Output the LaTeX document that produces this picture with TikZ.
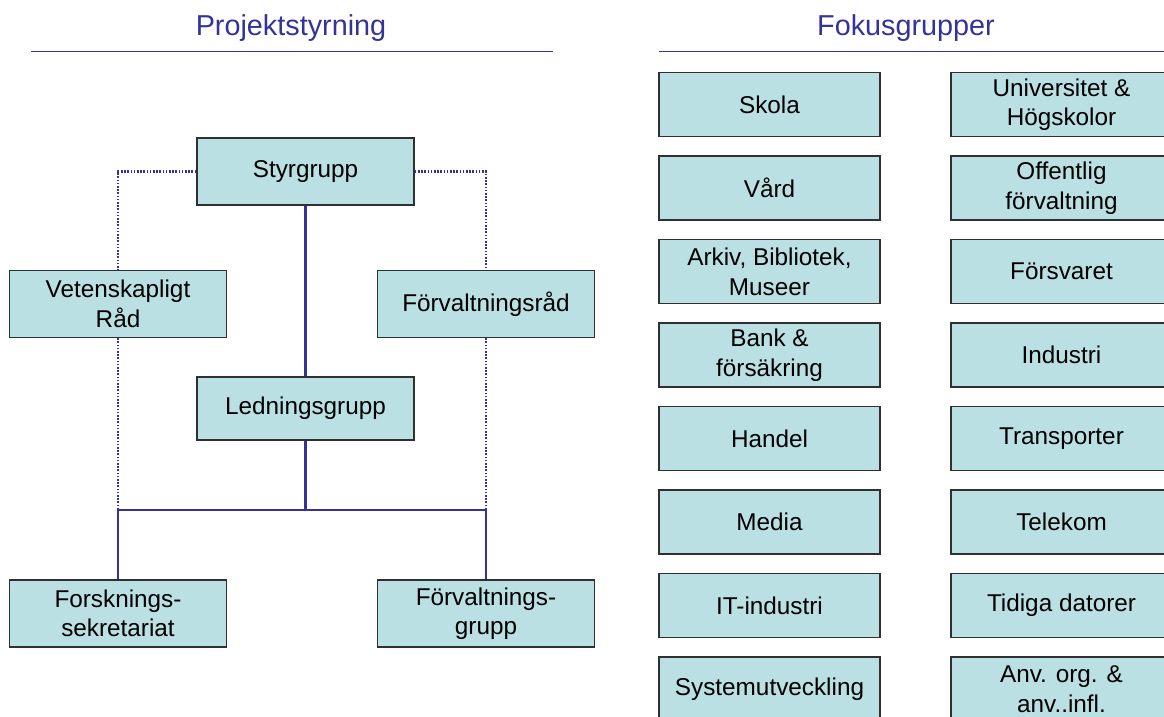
\documentclass[tikz,border=0pt]{standalone}
\usepackage{fontspec}
\setmainfont{Liberation Sans}
\definecolor{boxfill}{HTML}{BBE0E3}
\definecolor{linkblue}{HTML}{333399}
\definecolor{boxline}{HTML}{303030}
\tikzset{
  orgbox/.style={draw=boxline, line width=1.5pt, fill=boxfill, inner sep=0pt,
    minimum width=217pt, minimum height=67pt, align=center,
    font=\fontsize{24.3}{29.5}\selectfont},
  focbox/.style={draw=boxline, line width=1.5pt, fill=boxfill, inner sep=0pt,
    minimum width=221pt, minimum height=64pt, align=center,
    font=\fontsize{24.3}{29.5}\selectfont},
  solidlink/.style={draw=linkblue, line width=2.8pt},
  dotlink/.style={draw=linkblue, line width=2.4pt, dash pattern=on 1.6pt off 1.6pt},
  titletext/.style={text=linkblue, font=\fontsize{28.8}{32}\selectfont, inner sep=0pt},
  titlerule/.style={draw=linkblue, line width=1.6pt}
}
\begin{document}
\begin{tikzpicture}[x=1pt,y=-1pt]
\useasboundingbox (0,0) rectangle (1164,717);
\clip (0,0) rectangle (1164,717);
% titles
\node[titletext] (t1) at (291,28) {Projektstyrning};
\node[titletext] (t2) at (906,28) {Fokusgrupper};
\coordinate (r1a) at (31,51.5);
\coordinate (r1b) at (553,51.5);
\coordinate (r2a) at (659,51.5);
\coordinate (r2b) at (1164,51.5);
\draw[titlerule] (r1a) -- (r1b);
\draw[titlerule] (r2a) -- (r2b);
% project organisation
\coordinate (busM) at (305.5,510);
\node[orgbox] (sty) at (305.5,171.5) {Styrgrupp};
\node[orgbox] (vet) at (118,304) {Vetenskapligt\\Råd};
\node[orgbox] (frad) at (486,304) {Förvaltningsråd};
\node[orgbox, minimum height=63pt] (led) at (305.5,408.5) {Ledningsgrupp};
\node[orgbox] (fos) at (118,613.5) {Forsknings-\\sekretariat};
\node[orgbox] (fgr) at (486,613.5) {Förvaltnings-\\grupp};
\draw[dotlink] (sty.west) -| (vet.north);
\draw[dotlink] (sty.east) -| (frad.north);
\draw[dotlink] (vet.south) -- (vet.south |- busM);
\draw[dotlink] (frad.south) -- (frad.south |- busM);
\draw[solidlink] (sty.south) -- (led.north);
\draw[solidlink] (led.south) -- (busM);
\draw[solidlink] (fos.north) |- (busM) -| (fgr.north);
% focus groups
\node[focbox] (f1) at (769.5,104.7) {Skola};
\node[focbox] (f2) at (769.5,188.2) {Vård};
\node[focbox] (f3) at (769.5,271.7) {Arkiv, Bibliotek,\\Museer};
\node[focbox] (f4) at (769.5,355.2) {Bank \&\\försäkring};
\node[focbox] (f5) at (769.5,438.7) {Handel};
\node[focbox] (f6) at (769.5,522.2) {Media};
\node[focbox] (f7) at (769.5,605.7) {IT-industri};
\node[focbox] (f8) at (769.5,689.2) {Systemutveckling};
\node[focbox] (g1) at (1061.5,104.7) {Universitet \&\\Högskolor};
\node[focbox] (g2) at (1061.5,188.2) {Offentlig\\förvaltning};
\node[focbox] (g3) at (1061.5,271.7) {Försvaret};
\node[focbox] (g4) at (1061.5,355.2) {Industri};
\node[focbox] (g5) at (1061.5,438.7) {Transporter};
\node[focbox] (g6) at (1061.5,522.2) {Telekom};
\node[focbox] (g7) at (1061.5,605.7) {Tidiga datorer};
\node[focbox] (g8) at (1061.5,689.2) {Anv. org. \&\\anv..infl.};
\end{tikzpicture}
\end{document}
